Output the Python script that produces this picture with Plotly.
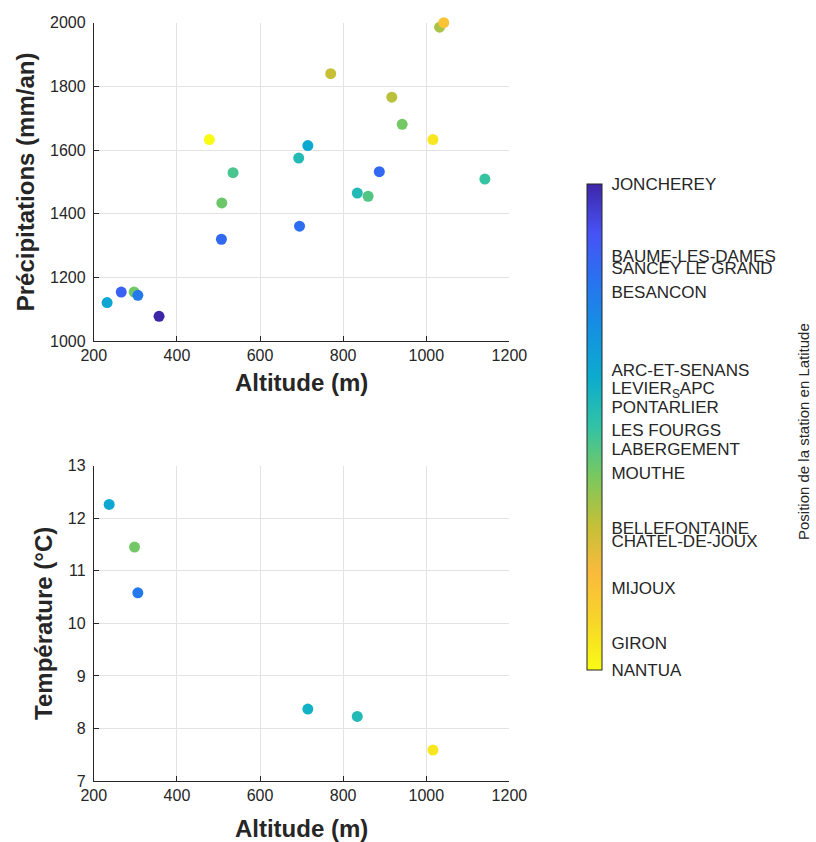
import plotly.graph_objects as go

# ---- Data ----
# Top panel: altitude (m), annual precipitation (mm/an), station latitude (colour)
alt_precip = [232, 266, 297, 306, 357, 507, 508, 535, 478, 695, 693, 715, 770, 834, 860, 887, 917, 942, 1016, 1141, 1032, 1042]
precip = [1121, 1154, 1154, 1144, 1078, 1320, 1434, 1529, 1633, 1361, 1575, 1614, 1840, 1465, 1455, 1532, 1766, 1681, 1633, 1509, 1986, 2000]
lat_precip = [47.006, 47.329, 46.72, 47.227, 47.53, 47.295, 46.73, 46.80, 46.16, 47.28, 46.90, 47.0, 46.56, 46.902, 46.783, 47.30, 46.59, 46.715, 46.236, 46.837, 46.62, 46.392]

# Bottom panel: altitude (m), mean temperature (°C), station latitude (colour)
alt_temp = [237, 298, 306, 715, 834, 1016]
temp = [12.26, 11.45, 10.58, 8.37, 8.23, 7.59]
lat_temp = [47.006, 46.72, 47.227, 46.955, 46.902, 46.236]

# Colour bar: station names at their latitude
cb_names = ["JONCHEREY", "BAUME-LES-DAMES", "SANCEY LE GRAND", "BESANCON", "ARC-ET-SENANS",
            "LEVIER<sub>S</sub>APC", "PONTARLIER", "LES FOURGS", "LABERGEMENT", "MOUTHE",
            "BELLEFONTAINE", "CHATEL-DE-JOUX", "MIJOUX", "GIRON", "NANTUA"]
cb_lats = [47.53, 47.329, 47.295, 47.227, 47.006, 46.955, 46.902, 46.837, 46.783, 46.715,
           46.562, 46.525, 46.392, 46.236, 46.16]
lat_min, lat_max = 46.16, 47.53

x_ticks = [200, 400, 600, 800, 1000, 1200]
precip_ticks = [1000, 1200, 1400, 1600, 1800, 2000]
temp_ticks = [7, 8, 9, 10, 11, 12, 13]

parula = [
    [0.00, "rgb(62,38,168)"],
    [0.10, "rgb(71,82,245)"],
    [0.20, "rgb(40,115,240)"],
    [0.30, "rgb(20,145,225)"],
    [0.40, "rgb(12,172,205)"],
    [0.50, "rgb(50,195,165)"],
    [0.60, "rgb(120,200,95)"],
    [0.70, "rgb(195,192,55)"],
    [0.80, "rgb(250,186,60)"],
    [0.90, "rgb(247,214,41)"],
    [1.00, "rgb(249,251,21)"],
]

FONT = "Liberation Sans, Arial, sans-serif"
INK = "#262626"
GRID = "#e3e3e3"

W, H = 816, 842

fig = go.Figure()

fig.add_trace(go.Scatter(
    x=alt_precip, y=precip, mode="markers", xaxis="x", yaxis="y",
    cliponaxis=False,
    marker=dict(size=11, color=lat_precip, colorscale=parula, reversescale=True,
                cmin=lat_min, cmax=lat_max, line=dict(width=0),
                showscale=True,
                colorbar=dict(
                    x=597 / W, xanchor="left", y=1 - 428 / H, yanchor="middle",
                    len=486, lenmode="pixels", thickness=15, thicknessmode="pixels",
                    outlinewidth=1, outlinecolor=INK, xpad=0, ypad=0,
                    tickmode="array", tickvals=cb_lats, ticktext=cb_names,
                    ticks="outside", ticklen=6, tickcolor="rgba(0,0,0,0)", tickwidth=1,
                    tickfont=dict(family=FONT, size=17, color=INK),
                )),
    showlegend=False,
))

fig.add_trace(go.Scatter(
    x=alt_temp, y=temp, mode="markers", xaxis="x2", yaxis="y2",
    cliponaxis=False,
    marker=dict(size=11, color=lat_temp, colorscale=parula, reversescale=True,
                cmin=lat_min, cmax=lat_max, line=dict(width=0), showscale=False),
    showlegend=False,
))

axis_common = dict(
    showline=True, linecolor=INK, linewidth=1, mirror=False,
    ticks="inside", ticklen=5, tickcolor=INK, tickwidth=1,
    showgrid=True, gridcolor=GRID, gridwidth=1, zeroline=False,
    tickfont=dict(family=FONT, size=16, color=INK),
)
xtitle_font = dict(family=FONT, size=24, color=INK)
ytitle_font = dict(family=FONT, size=24, color=INK)

fig.update_layout(
    width=W, height=H,
    margin=dict(l=0, r=0, t=0, b=0),
    paper_bgcolor="white", plot_bgcolor="white",
    xaxis=dict(domain=[84 / W, 516 / W], anchor="y", range=[200, 1200], tickvals=x_ticks,
               title=dict(text="<b>Altitude (m)</b>", font=xtitle_font, standoff=10), **axis_common),
    yaxis=dict(domain=[1 - 340 / H, 1 - 15 / H], anchor="x", range=[1000, 2000], tickvals=precip_ticks,
               title=dict(text="<b>Précipitations (mm/an)</b>", font=ytitle_font, standoff=8),
               ticklabelstandoff=4, **axis_common),
    xaxis2=dict(domain=[84 / W, 516 / W], anchor="y2", range=[200, 1200], tickvals=x_ticks,
                title=dict(text="<b>Altitude (m)</b>", font=xtitle_font, standoff=18), **axis_common),
    yaxis2=dict(domain=[1 - 789 / H, 1 - 467 / H], anchor="x2", range=[7, 13], tickvals=temp_ticks,
                title=dict(text="<b>Température (°C)</b>", font=ytitle_font, standoff=8),
                ticklabelstandoff=4, **axis_common),
    annotations=[dict(
        text="Position de la station en Latitude", textangle=-90,
        x=822 / W, y=1 - 432 / H, xref="paper", yref="paper",
        xanchor="center", yanchor="middle", showarrow=False,
        font=dict(family=FONT, size=15, color=INK),
    )],
)

fig.write_html("out.html")
